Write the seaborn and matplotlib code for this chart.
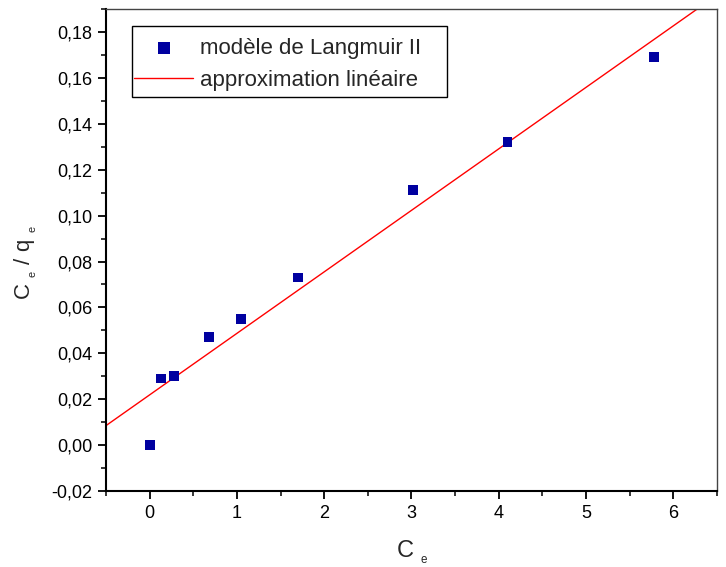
import numpy as np
import pandas as pd
import matplotlib
matplotlib.use("Agg")
import matplotlib.pyplot as plt
from matplotlib.ticker import FuncFormatter, MultipleLocator
from matplotlib.patches import Rectangle
import seaborn as sns

# data
ce = [0.0, 0.13, 0.28, 0.68, 1.05, 1.70, 3.02, 4.10, 5.78]
ce_qe = [0.000, 0.029, 0.030, 0.047, 0.055, 0.073, 0.111, 0.132, 0.169]
fit_intercept = 0.0219
fit_slope = 0.0268
series_points = "modèle de Langmuir II"
series_line = "approximation linéaire"

sns.set_style("white")
plt.rcParams['font.family'] = ['Liberation Sans', 'DejaVu Sans']
plt.rcParams['mathtext.fontset'] = 'custom'
plt.rcParams['mathtext.rm'] = 'Liberation Sans'

fig = plt.figure(figsize=(7.26, 5.67), dpi=100)
ax = fig.add_axes([0.146, 0.134, 0.8416, 0.850])

xlim = (-0.5, 6.5)
ylim = (-0.02, 0.19)

pts = pd.DataFrame({"Ce": ce, "Ce/qe": ce_qe})
xl = np.array(xlim)
line = pd.DataFrame({"x": xl, "y": fit_intercept + fit_slope * xl})

sns.scatterplot(data=pts, x="Ce", y="Ce/qe", marker="s", s=50, color="#0000A0",
                edgecolor="none", ax=ax, label=series_points, zorder=3)
sns.lineplot(data=line, x="x", y="y", color="red", linewidth=1.0, ax=ax,
             label=series_line, zorder=2)

ax.set_xlim(*xlim)
ax.set_ylim(*ylim)
ax.xaxis.set_major_locator(MultipleLocator(1))
ax.xaxis.set_minor_locator(MultipleLocator(0.5))
ax.yaxis.set_major_locator(MultipleLocator(0.02))
ax.yaxis.set_minor_locator(MultipleLocator(0.01))
ax.xaxis.set_major_formatter(FuncFormatter(lambda v, p: f"{v:.0f}"))
ax.yaxis.set_major_formatter(FuncFormatter(lambda v, p: f"{v:.2f}".replace(".", ",").replace("-0,00", "0,00")))

ax.tick_params(which="major", direction="out", length=6, width=1.3, labelsize=13,
               bottom=True, left=True, top=False, right=False, colors="black", pad=4)
ax.tick_params(which="minor", direction="out", length=3.6, width=1.3,
               bottom=True, left=True, top=False, right=False)
for s in ["left", "bottom"]:
    ax.spines[s].set_linewidth(1.5)
    ax.spines[s].set_color("black")
for s in ["top", "right"]:
    ax.spines[s].set_linewidth(1.0)
    ax.spines[s].set_color("#444444")

sub = r"$\mathregular{{}_{{}_{e}}}$"
ax.set_xlabel("C " + sub, fontsize=17, labelpad=12)
ax.set_ylabel("C " + sub + " / q " + sub, fontsize=16, labelpad=9)
ax.yaxis.label.set_y(0.474)

# legend: content without frame, frame drawn as a box like the original
leg = ax.legend(loc="upper left", bbox_to_anchor=(0.0426, 0.945), fontsize=16,
                frameon=False, borderpad=0.1, borderaxespad=0,
                handlelength=2.65, handletextpad=0.32, labelspacing=0.5,
                markerscale=1.25)
ax.add_patch(Rectangle((0.0426, 0.8174), 0.5155, 0.1473, transform=ax.transAxes,
                       facecolor="white", edgecolor="black", linewidth=1.0,
                       zorder=4))
leg.set_zorder(5)

fig.savefig("out.png", dpi=100)
